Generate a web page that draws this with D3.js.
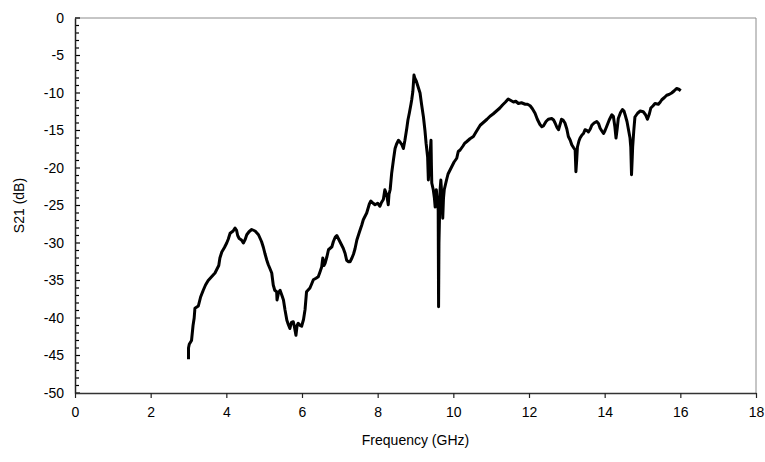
<!DOCTYPE html>
<html><head><meta charset="utf-8">
<script src="https://cdn.jsdelivr.net/npm/d3@7"></script>
<style>body{margin:0;background:#fff}svg{display:block}text{font-family:"Liberation Sans",Arial,sans-serif;fill:#000}</style>
</head><body><svg id="c" width="765" height="462"></svg>
<script>
const freq = [3.00,3.00,3.02,3.08,3.12,3.15,3.17,3.26,3.32,3.39,3.45,3.52,3.61,3.70,3.74,3.80,3.83,3.88,3.95,4.01,4.05,4.10,4.18,4.23,4.27,4.30,4.34,4.40,4.45,4.50,4.54,4.60,4.67,4.76,4.85,4.93,4.98,5.02,5.07,5.11,5.16,5.20,5.24,5.28,5.33,5.34,5.38,5.42,5.47,5.51,5.55,5.60,5.64,5.68,5.72,5.77,5.80,5.84,5.87,5.90,5.95,5.99,6.04,6.08,6.12,6.21,6.26,6.30,6.37,6.43,6.48,6.52,6.55,6.58,6.61,6.66,6.70,6.79,6.83,6.88,6.92,6.96,7.00,7.05,7.09,7.14,7.18,7.23,7.27,7.32,7.36,7.40,7.45,7.52,7.58,7.62,7.71,7.78,7.82,7.88,7.93,8.00,8.06,8.10,8.15,8.19,8.24,8.28,8.30,8.33,8.37,8.42,8.46,8.50,8.55,8.60,8.64,8.68,8.72,8.77,8.80,8.84,8.88,8.90,8.93,8.96,8.98,9.02,9.07,9.12,9.16,9.21,9.25,9.28,9.32,9.34,9.36,9.38,9.41,9.42,9.43,9.47,9.50,9.52,9.55,9.58,9.60,9.61,9.62,9.65,9.67,9.70,9.72,9.74,9.76,9.82,9.86,9.91,9.96,10.02,10.09,10.13,10.18,10.25,10.30,10.35,10.44,10.53,10.60,10.71,10.80,10.89,10.97,11.05,11.14,11.23,11.30,11.38,11.45,11.52,11.59,11.65,11.72,11.80,11.90,11.96,12.03,12.09,12.16,12.22,12.29,12.34,12.38,12.45,12.51,12.60,12.65,12.69,12.74,12.78,12.82,12.86,12.90,12.95,13.00,13.04,13.09,13.13,13.18,13.22,13.24,13.26,13.28,13.32,13.35,13.40,13.44,13.48,13.53,13.57,13.62,13.66,13.72,13.79,13.84,13.88,13.93,13.97,14.01,14.05,14.12,14.19,14.23,14.27,14.30,14.33,14.36,14.42,14.47,14.51,14.54,14.59,14.63,14.67,14.69,14.71,14.73,14.74,14.77,14.80,14.87,14.94,15.02,15.08,15.13,15.18,15.22,15.28,15.33,15.42,15.47,15.51,15.58,15.64,15.70,15.77,15.84,15.90,15.96,16.01];
const s21 = [-45.5,-44.0,-43.5,-43.0,-41.0,-40.0,-38.7,-38.4,-37.2,-36.3,-35.6,-35.0,-34.5,-34.0,-33.6,-33.0,-32.0,-31.2,-30.6,-30.0,-29.5,-28.7,-28.4,-28.0,-28.3,-29.0,-29.4,-29.6,-30.0,-29.5,-28.9,-28.5,-28.2,-28.4,-28.9,-29.8,-30.6,-31.4,-32.3,-32.9,-33.5,-34.0,-35.6,-36.3,-36.5,-37.6,-36.6,-36.3,-37.0,-37.6,-38.9,-40.3,-40.9,-41.4,-40.6,-40.5,-41.2,-42.3,-41.0,-40.7,-41.0,-41.1,-40.2,-38.9,-36.5,-36.0,-35.4,-34.9,-34.7,-34.5,-33.8,-33.2,-32.0,-33.0,-32.7,-31.8,-30.9,-30.5,-29.8,-29.2,-29.0,-29.4,-29.8,-30.3,-30.7,-31.4,-32.3,-32.5,-32.5,-32.0,-31.5,-30.8,-29.6,-28.5,-27.6,-26.9,-26.0,-24.8,-24.4,-24.7,-24.9,-24.7,-25.1,-24.6,-24.2,-22.9,-23.6,-24.9,-23.5,-22.9,-20.7,-18.8,-17.4,-16.8,-16.3,-16.6,-16.9,-17.4,-16.3,-14.7,-13.6,-12.6,-11.5,-10.9,-9.8,-7.6,-8.0,-8.4,-9.2,-10.0,-11.5,-13.2,-15.0,-16.7,-18.5,-21.6,-20.0,-18.5,-16.3,-19.5,-22.0,-22.9,-24.0,-25.2,-22.9,-24.5,-25.6,-38.5,-30.0,-22.9,-21.6,-24.0,-26.7,-24.0,-22.9,-21.6,-20.8,-20.3,-19.8,-19.2,-18.7,-17.8,-17.6,-17.1,-16.7,-16.5,-16.1,-15.8,-15.2,-14.3,-13.9,-13.5,-13.1,-12.8,-12.4,-12.0,-11.6,-11.2,-10.8,-11.0,-11.2,-11.1,-11.4,-11.3,-11.5,-11.5,-11.7,-12.1,-12.7,-13.5,-14.2,-14.5,-14.4,-13.8,-13.5,-13.4,-13.6,-14.0,-14.6,-14.9,-14.2,-13.5,-13.6,-14.0,-14.8,-15.8,-16.3,-16.9,-17.3,-17.6,-20.5,-19.0,-17.2,-16.4,-16.0,-15.6,-15.4,-14.9,-15.0,-15.2,-14.8,-14.3,-14.0,-13.8,-14.1,-14.7,-15.1,-15.4,-15.0,-14.5,-13.6,-12.9,-13.1,-14.5,-16.0,-14.8,-13.4,-12.6,-12.2,-12.4,-12.9,-13.8,-14.9,-16.0,-17.2,-20.9,-18.5,-17.2,-15.0,-13.2,-12.7,-12.4,-12.5,-12.9,-13.5,-12.8,-12.0,-11.7,-11.4,-11.5,-11.2,-10.9,-10.6,-10.3,-10.2,-10.0,-9.7,-9.4,-9.5,-9.7];
const xTicks = [0,2,4,6,8,10,12,14,16,18];
const yTicks = [0,-5,-10,-15,-20,-25,-30,-35,-40,-45,-50];
const xTitle = "Frequency (GHz)";
const yTitle = "S21 (dB)";

const svg = d3.select("#c");
const L = 75, R = 756, T = 18, B = 393;
const x = d3.scaleLinear().domain([0,18]).range([L,R]);
const y = d3.scaleLinear().domain([-50,0]).range([B,T]);
const fmt = d => String(d);

// frame top/right
svg.append("line").attr("x1",L).attr("x2",R).attr("y1",T).attr("y2",T).attr("stroke","#8c8c8c").attr("stroke-width",1);
svg.append("line").attr("x1",R).attr("x2",R).attr("y1",T).attr("y2",B).attr("stroke","#8c8c8c").attr("stroke-width",1);

// y axis: ticks inward (right)
const yMinor = d3.range(-50,1,1);
svg.append("g").selectAll("line").data(yMinor).join("line")
  .attr("x1",L).attr("x2",d=>L+(d%5===0?5:4)).attr("y1",d=>y(d)).attr("y2",d=>y(d))
  .attr("stroke","#000").attr("stroke-width",1.2);
const gy = svg.append("g").attr("transform",`translate(${L},0)`)
  .call(d3.axisLeft(y).tickValues(yTicks).tickSize(0).tickPadding(11).tickFormat(fmt));
gy.select(".domain").attr("stroke","#222").attr("stroke-width",1.5);
gy.selectAll("text").style("font-size","14px").style("font-family","'Liberation Sans',Arial,sans-serif").attr("fill","#000");

// x axis: ticks outward (down)
const gx = svg.append("g").attr("transform",`translate(0,${B})`)
  .call(d3.axisBottom(x).tickValues(xTicks).tickSize(5).tickSizeOuter(0).tickPadding(9).tickFormat(fmt));
gx.select(".domain").attr("stroke","#333").attr("stroke-width",1.5);
gx.selectAll(".tick line").attr("stroke","#222").attr("stroke-width",1.2);
gx.selectAll("text").style("font-size","14px").style("font-family","'Liberation Sans',Arial,sans-serif").attr("fill","#000");

// titles
svg.append("text").attr("x",(L+R)/2).attr("y",445).attr("text-anchor","middle").style("font-size","14px").text(xTitle);
svg.append("text").attr("transform",`translate(24,${(T+B)/2}) rotate(-90)`).attr("text-anchor","middle").style("font-size","14px").text(yTitle);

// data line
const line = d3.line().x((d,i)=>x(freq[i])).y(d=>y(d));
svg.append("path").datum(s21).attr("d",line).attr("fill","none").attr("stroke","#000").attr("stroke-width",3).attr("stroke-linejoin","round");
</script></body></html>
